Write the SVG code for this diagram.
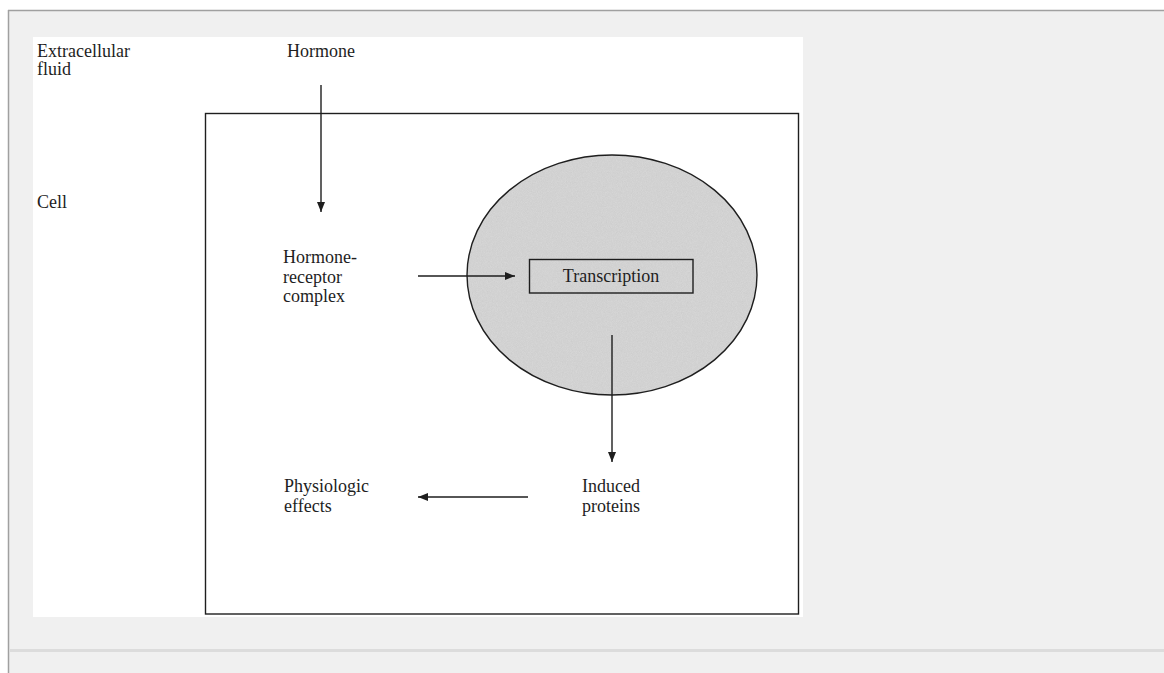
<svg xmlns="http://www.w3.org/2000/svg" width="1164" height="673" viewBox="0 0 1164 673">
  <style>
    .lbl { font-family: "Liberation Serif", "Times New Roman", serif; font-size: 18px; fill: #1e1e1e; }
    .ln { stroke: #1e1e1e; stroke-width: 1.4; fill: none; }
    .arr { stroke: #1e1e1e; stroke-width: 1.4; fill: none; marker-end: url(#head); }
  </style>
  <defs>
    <marker id="head" viewBox="0 0 10 8" refX="10" refY="4" markerWidth="10" markerHeight="8" markerUnits="userSpaceOnUse" orient="auto">
      <path d="M0,0 L10,4 L0,8 z" fill="#1e1e1e"/>
    </marker>
    <!-- fine stipple for the nucleus -->
    <filter id="grain" x="0" y="0" width="100%" height="100%">
      <feTurbulence type="fractalNoise" baseFrequency="1.2" numOctaves="1" seed="4" result="n"/>
      <feColorMatrix in="n" type="matrix" values="0 0 0 0 0.55  0 0 0 0 0.55  0 0 0 0 0.55  0 0 0 0.9 -0.25" result="dots"/>
      <feComposite in="dots" in2="SourceGraphic" operator="in" result="clip"/>
      <feMerge><feMergeNode in="SourceGraphic"/><feMergeNode in="clip"/></feMerge>
    </filter>
  </defs>

  <!-- page frame -->
  <rect x="0" y="0" width="1164" height="673" fill="#ffffff"/>
  <rect x="8" y="10" width="1156" height="663" fill="#f0f0f0"/>
  <line x1="8" y1="10.5" x2="1164" y2="10.5" stroke="#a0a0a0" stroke-width="1.5"/>
  <line x1="8.5" y1="10" x2="8.5" y2="673" stroke="#a0a0a0" stroke-width="1.5"/>
  <rect x="9" y="649" width="1155" height="3" fill="#dcdcdc"/>

  <!-- figure sheet -->
  <rect x="33" y="37" width="770" height="580" fill="#ffffff"/>

  <!-- cell membrane -->
  <g id="cell">
    <rect x="205.5" y="113.5" width="593" height="500.5" class="ln"/>
  </g>

  <!-- nucleus -->
  <g id="nucleus">
    <ellipse cx="612" cy="275" rx="145" ry="120" fill="#d6d6d6" filter="url(#grain)"/>
    <ellipse cx="612" cy="275" rx="145" ry="120" class="ln"/>
  </g>

  <g id="transcription">
    <rect x="529.5" y="259.5" width="163.5" height="33.5" fill="#ffffff" class="ln"/>
    <text class="lbl" x="611" y="282" text-anchor="middle">Transcription</text>
  </g>

  <g id="extracellular-fluid">
    <text class="lbl" x="37" y="57">Extracellular</text>
    <text class="lbl" x="37" y="75">fluid</text>
  </g>

  <g id="cell-label">
    <text class="lbl" x="37" y="208">Cell</text>
  </g>

  <g id="hormone">
    <text class="lbl" x="287" y="57">Hormone</text>
  </g>

  <g id="hormone-receptor-complex">
    <text class="lbl" x="283" y="263">Hormone-</text>
    <text class="lbl" x="283" y="282.5">receptor</text>
    <text class="lbl" x="283" y="302">complex</text>
  </g>

  <g id="induced-proteins">
    <text class="lbl" x="582" y="492">Induced</text>
    <text class="lbl" x="582" y="512">proteins</text>
  </g>

  <g id="physiologic-effects">
    <text class="lbl" x="284" y="492">Physiologic</text>
    <text class="lbl" x="284" y="512">effects</text>
  </g>

  <!-- connectors -->
  <g id="connectors">
    <line class="arr" x1="321" y1="85" x2="321" y2="212"/>
    <line class="arr" x1="418" y1="276" x2="515" y2="276"/>
    <line class="arr" x1="612" y1="335" x2="612" y2="462"/>
    <line class="arr" x1="528" y1="497" x2="418" y2="497"/>
  </g>
</svg>
